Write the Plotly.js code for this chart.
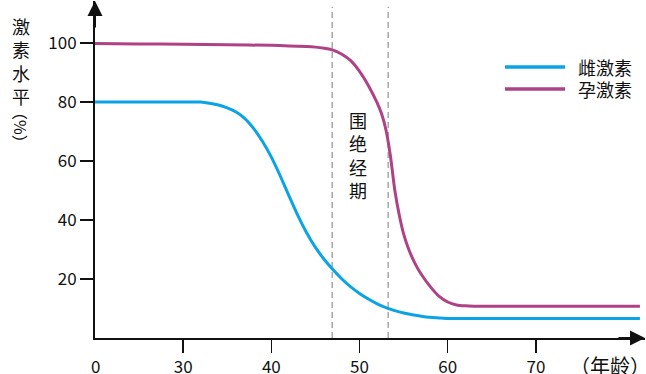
<!DOCTYPE html>
<html>
<head>
<meta charset="utf-8">
<script src="https://cdn.plot.ly/plotly-3.0.1.min.js"></script>
<style>html,body{margin:0;padding:0;background:#fff;}#chart{width:646px;height:374px;}</style>
</head>
<body>
<div id="chart"></div>
<script>
// ---- data ----
const seriesNames = ['雌激素', '孕激素'];
const estrogenAge = [20, 25, 30, 32, 33, 34, 35, 36, 37, 38, 39, 40, 41, 42, 43, 44, 45, 46, 47, 48, 49, 50, 51, 52, 53, 54, 55, 56, 57, 58, 59, 60, 62, 66, 70, 76, 81.8];
const estrogenVal = [80, 80, 80, 80, 79.6, 79.0, 78.0, 76.6, 74.4, 71.0, 66.6, 61.3, 55.0, 48.2, 41.6, 35.7, 30.7, 26.6, 23.1, 20.0, 17.3, 15.1, 13.2, 11.6, 10.3, 9.3, 8.5, 7.9, 7.4, 7.0, 6.8, 6.6, 6.6, 6.6, 6.6, 6.6, 6.6];
const progesteroneAge = [20, 25, 30, 35, 40, 42, 44, 45, 46, 47, 48, 49, 50, 51, 52, 52.5, 53, 53.5, 54, 54.5, 55, 55.5, 56, 56.5, 57, 58, 59, 60, 61, 62, 63, 66, 70, 76, 81.8];
const progesteroneVal = [99.8, 99.7, 99.6, 99.4, 99.2, 99.0, 98.8, 98.6, 98.2, 97.6, 96.2, 94.0, 90.4, 85.6, 79.7, 76.0, 70.5, 61.8, 50.1, 41.8, 35.3, 30.7, 27.1, 24.1, 21.6, 17.5, 14.2, 12.2, 11.2, 10.9, 10.8, 10.8, 10.8, 10.8, 10.8];
const perimenopause = [46.9, 53.25];
const xTickVals = [30, 40, 50, 60, 70];
const xTickText = ['30', '40', '50', '60', '70'];
const xZeroAt = 20;      // the "0" origin label sits where age 20 would be (broken axis)
const xZeroText = '0';
const yTickVals = [20, 40, 60, 80, 100];
const yTitleText = '激<br>素<br>水<br>平';
const yUnitText = '（%）';
const xTitleText = '（年龄）';
const bandLabel = '围<br>绝<br>经<br>期';
const colors = ['#0aa3e6', '#ae4285'];

// ---- layout helpers ----
const W = 646, H = 374, L = 95, R = 1, T = 1, B = 36;
const pw = W - L - R, ph = H - T - B;
const px = v => (v - L) / pw;
const py = v => (H - B - v) / ph;
const cjk = '"Noto Sans CJK SC", "Noto Sans", sans-serif';

const traces = [
  {x: estrogenAge, y: estrogenVal, name: seriesNames[0], mode: 'lines',
   line: {color: colors[0], width: 3, shape: 'spline', smoothing: 0.6}},
  {x: progesteroneAge, y: progesteroneVal, name: seriesNames[1], mode: 'lines',
   line: {color: colors[1], width: 3, shape: 'spline', smoothing: 0.6}}
];

const shapes = perimenopause.map(a => ({
  type: 'line', xref: 'x', yref: 'paper', x0: a, x1: a, y0: 0, y1: py(7),
  line: {color: '#9a9a9a', width: 1.3, dash: '6px,4px'}, layer: 'below'
}));

// legend (long line samples like the reference)
const legendRows = [67, 89];
seriesNames.forEach((n, i) => {
  shapes.push({type: 'line', xref: 'paper', yref: 'paper',
    x0: px(505), x1: px(565), y0: py(legendRows[i]), y1: py(legendRows[i]),
    line: {color: colors[i], width: 3.5}});
});

const annotations = [
  {xref: 'paper', yref: 'paper', x: px(21), y: py(11), xanchor: 'center', yanchor: 'top',
   text: yTitleText, showarrow: false, font: {family: cjk, size: 18, color: '#111'}},
  {xref: 'paper', yref: 'paper', x: px(21), y: py(127), xanchor: 'center', yanchor: 'middle',
   text: yUnitText, textangle: 90, showarrow: false, font: {family: cjk, size: 16, color: '#111'}},
  {xref: 'paper', yref: 'paper', x: px(357.5), y: py(155), xanchor: 'center', yanchor: 'middle',
   text: bandLabel, showarrow: false, font: {family: cjk, size: 18, color: '#111'}},
  {xref: 'paper', yref: 'paper', x: px(610), y: py(365), xanchor: 'center', yanchor: 'middle',
   text: xTitleText, showarrow: false, font: {family: cjk, size: 20, color: '#111'}},
  {xref: 'x', yref: 'paper', x: xZeroAt, y: py(365), xanchor: 'center', yanchor: 'middle',
   text: xZeroText, showarrow: false, font: {family: cjk, size: 17, color: '#111'}},
  // axis arrowheads
  {xref: 'paper', yref: 'paper', x: 1, y: 0, ax: -28, ay: 0, text: '', showarrow: true,
   arrowhead: 2, arrowsize: 1.5, arrowwidth: 2, arrowcolor: '#111'},
  {xref: 'paper', yref: 'paper', x: 0, y: 1, ax: 0, ay: 28, text: '', showarrow: true,
   arrowhead: 2, arrowsize: 1.5, arrowwidth: 2, arrowcolor: '#111'}
];
seriesNames.forEach((n, i) => {
  annotations.push({xref: 'paper', yref: 'paper', x: px(576), y: py(legendRows[i]),
    xanchor: 'left', yanchor: 'middle', text: n, showarrow: false,
    font: {family: cjk, size: 18, color: '#111'}});
});

const layout = {
  width: W, height: H,
  margin: {l: L, r: R, t: T, b: B, pad: 0},
  paper_bgcolor: '#fff', plot_bgcolor: '#fff',
  font: {family: cjk, size: 17, color: '#111'},
  showlegend: false,
  xaxis: {range: [20, 20 + pw / 8.8175], tickvals: xTickVals, ticktext: xTickText,
          ticks: 'outside', ticklen: 13, tickwidth: 1.5, tickcolor: '#111',
          showline: true, linewidth: 2, linecolor: '#111', showgrid: false, zeroline: false,
          tickfont: {family: cjk, size: 17, color: '#111'}, fixedrange: true},
  yaxis: {range: [0, ph / 2.95], tickvals: yTickVals,
          ticks: 'outside', ticklen: 13, tickwidth: 1.5, tickcolor: '#111',
          showline: true, linewidth: 2, linecolor: '#111', showgrid: false, zeroline: false,
          tickfont: {family: cjk, size: 17, color: '#111'}, fixedrange: true},
  shapes: shapes,
  annotations: annotations
};

Plotly.newPlot('chart', traces, layout, {displayModeBar: false, staticPlot: true});
</script>
</body>
</html>
